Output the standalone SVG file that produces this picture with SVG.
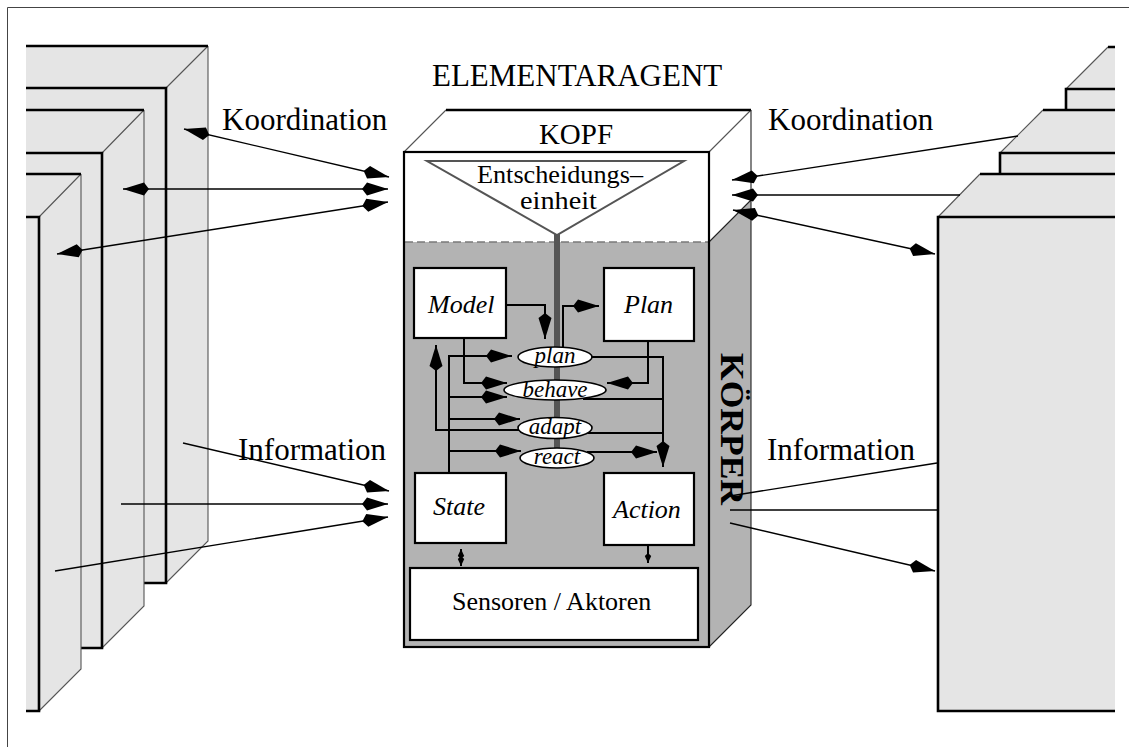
<svg xmlns="http://www.w3.org/2000/svg" width="1129" height="747" viewBox="0 0 1129 747">
<defs>
<style>
.t{font-family:"Liberation Serif","Times New Roman",serif;fill:#000}
.big{font-size:31px}
.it{font-style:italic}
.box{fill:#fff;stroke:#000;stroke-width:2.2}
.stk{fill:#e5e5e5;stroke:none}
.thk{stroke:#000;stroke-width:2.6;fill:none}
.thn{stroke:#555;stroke-width:1.1;fill:none}
.con{stroke:#000;stroke-width:1.4;fill:none}
.wire{stroke:#000;stroke-width:2;fill:none}
.ell{fill:#fff;stroke:#000;stroke-width:1.6}
.ah{marker-end:url(#ah)}
.ah2{marker-start:url(#ah);marker-end:url(#ah)}
</style>
<marker id="ah" markerUnits="userSpaceOnUse" viewBox="-27 -8 28 16" markerWidth="28" markerHeight="16" refX="0" refY="0" orient="auto-start-reverse"><path d="M0,0 L-21,-6.5 L-26,0 L-21,6.5 Z" fill="#000"/></marker>
<marker id="sh" markerUnits="userSpaceOnUse" viewBox="-11 -4 12 8" markerWidth="12" markerHeight="8" refX="0" refY="0" orient="auto-start-reverse"><path d="M0,0 L-7,-3.2 L-10,0 L-7,3.2 Z" fill="#000"/></marker>
</defs>
<rect width="1129" height="747" fill="#fff"/>
<path d="M7.5,747 V7.5 H1129" stroke="#444" stroke-width="1" fill="none"/>

<g id="stack-left">
<g id="left-box-1">
<polygon class="stk" points="26,46 208,46 208,541 166,583 26,583"/>
<path class="thn" d="M208,46 L166,88 M208,46 V541 L166,583"/>
<path class="thk" d="M26,46 H208 M26,88 H166 V583 H26"/>
</g>
<g id="left-box-2">
<polygon class="stk" points="26,110 144,110 144,606 102,648 26,648"/>
<path class="thn" d="M144,110 L102,153 M144,110 V606 L102,648"/>
<path class="thk" d="M26,110 H144 M26,153 H102 V648 H26"/>
</g>
<g id="left-box-3">
<polygon class="stk" points="26,174 81,174 81,669 39,711 26,711"/>
<path class="thn" d="M81,174 L39,217 M81,174 V669 L39,711"/>
<path class="thk" d="M26,174 H81 M26,217 H39 V711 H26"/>
</g>
</g>

<g id="stack-right">
<g id="right-box-3">
<polygon class="stk" points="1108,47 1115,47 1115,600 1066,600 1066,89"/>
<path class="thn" d="M1108,47 L1066,89"/>
<path class="thk" d="M1108,47 H1115 M1066,200 V89 H1115"/>
</g>
<g id="right-box-2">
<polygon class="stk" points="1043,110 1115,110 1115,600 1000,600 1000,153"/>
<path class="thn" d="M1043,110 L1000,153"/>
<path class="thk" d="M1043,110 H1115 M1000,200 V153 H1115"/>
</g>
<g id="right-box-1">
<polygon class="stk" points="980,174 1115,174 1115,711 938,711 938,217"/>
<path class="thn" d="M980,174 L938,217"/>
<path class="thk" d="M980,174 H1115 M1115,217 H938 V711 H1115"/>
</g>
</g>

<g id="agent">
<text class="t big" x="432" y="86">ELEMENTARAGENT</text>
<g id="kopf">
<polygon points="404,152 446,110 751,110 709,152" fill="#fff"/>
<polygon points="709,152 751,110 751,200 709,242" fill="#fff"/>
<rect x="404" y="152" width="305" height="90" fill="#fff"/>
<path class="thn" d="M446,110 L404,152 M751,110 L709,152" stroke="#333"/>
<path d="M446,110 H751" stroke="#000" stroke-width="2.4"/>
<text class="t" x="576" y="144" font-size="29" text-anchor="middle">KOPF</text>
</g>
<g id="koerper">
<polygon points="709,242 751,200 751,605 709,647" fill="#b3b3b3"/>
<rect x="404" y="242" width="305" height="405" fill="#b3b3b3"/>
<path d="M709,242 L751,200 M751,110 V605 L709,647" stroke="#222" stroke-width="1.1" fill="none"/>
<path d="M405,242 H708" stroke="#7a7a7a" stroke-width="1.6" stroke-dasharray="8 4"/>
<rect x="404" y="152" width="305" height="495" fill="none" stroke="#000" stroke-width="2.2"/>
<text class="t" font-size="33" font-weight="bold" transform="translate(721,353) rotate(90)" textLength="152" lengthAdjust="spacingAndGlyphs">KÖRPER</text>
</g>
<g id="entscheidungseinheit">
<line x1="557" y1="230" x2="557" y2="450" stroke="#555" stroke-width="6"/>
<polygon points="427,161 684,161 557,235" fill="#fff" stroke="#555" stroke-width="2"/>
<text class="t" x="477" y="183" font-size="25" textLength="166" lengthAdjust="spacingAndGlyphs">Entscheidungs–</text>
<text class="t" x="520" y="209" font-size="26" textLength="77" lengthAdjust="spacingAndGlyphs">einheit</text>
</g>
<g id="model"><rect class="box" x="414" y="268" width="92" height="70"/><text class="t it" x="428" y="313" font-size="26">Model</text></g>
<g id="plan-box"><rect class="box" x="604" y="268" width="90" height="73"/><text class="t it" x="624" y="313" font-size="26">Plan</text></g>
<g id="state"><rect class="box" x="415" y="473" width="91" height="70"/><text class="t it" x="433" y="515" font-size="26">State</text></g>
<g id="action"><rect class="box" x="604" y="473" width="90" height="72"/><text class="t it" x="613" y="518" font-size="26">Action</text></g>
<g id="sensoren"><rect class="box" x="410" y="568" width="288" height="72"/><text class="t" x="452" y="610" font-size="26">Sensoren / Aktoren</text></g>
<g id="ell-plan"><ellipse class="ell" cx="555" cy="357" rx="37" ry="10"/><text class="t it" x="555" y="363" font-size="23" text-anchor="middle">plan</text></g>
<g id="ell-behave"><ellipse class="ell" cx="555" cy="390" rx="51" ry="10"/><text class="t it" x="555" y="397" font-size="23" text-anchor="middle">behave</text></g>
<g id="ell-adapt"><ellipse class="ell" cx="555" cy="428" rx="37" ry="10.5"/><text class="t it" x="555" y="434" font-size="23" text-anchor="middle">adapt</text></g>
<g id="ell-react"><ellipse class="ell" cx="557" cy="458" rx="37" ry="10"/><text class="t it" x="557" y="464" font-size="23" text-anchor="middle">react</text></g>
</g>

<g id="labels">
<text class="t big" x="222" y="130">Koordination</text>
<text class="t big" x="768" y="130">Koordination</text>
<text class="t big" x="238" y="460">Information</text>
<text class="t big" x="767" y="460">Information</text>
</g>

<g id="connectors">
<path class="con ah2" d="M184,129 L389,177"/>
<path class="con ah2" d="M123,189 L388,189"/>
<path class="con ah2" d="M57,254 L388,202"/>
<path class="con ah" d="M1018,136 L732,180"/>
<path class="con ah" d="M960,195 L732,195"/>
<path class="con ah2" d="M733,210 L935,254"/>
<path class="con ah" d="M183,443 L389,491"/>
<path class="con ah" d="M121,504 L388,504"/>
<path class="con ah" d="M55,571 L388,517"/>
<path class="con" d="M730,496 L937,463"/>
<path class="con" d="M730,510 L937,510"/>
<path class="con ah" d="M730,523 L935,571"/>
<path class="wire ah" d="M506,305 H545 V339"/>
<path class="wire ah" d="M563,347 V306 H599"/>
<path class="wire ah" d="M464,338 V383 H507"/>
<path class="wire ah" d="M449,473 V356 H512"/>
<path class="wire ah" d="M449,397 H507"/>
<path class="wire ah" d="M449,419 H520"/>
<path class="wire ah" d="M449,451 H521"/>
<path class="wire ah" d="M519,430 H436 V345"/>
<path class="wire ah" d="M648,341 V383 H607"/>
<path class="wire ah" d="M592,357 H663 V467"/>
<path class="wire" d="M583,399 H663"/>
<path class="wire" d="M588,433 H663"/>
<path class="wire ah" d="M587,452 H657"/>
<path class="wire" d="M461,549 V566" marker-start="url(#sh)" marker-end="url(#sh)"/>
<path class="wire" d="M648,546 V563" marker-end="url(#sh)"/>
</g>
</svg>
